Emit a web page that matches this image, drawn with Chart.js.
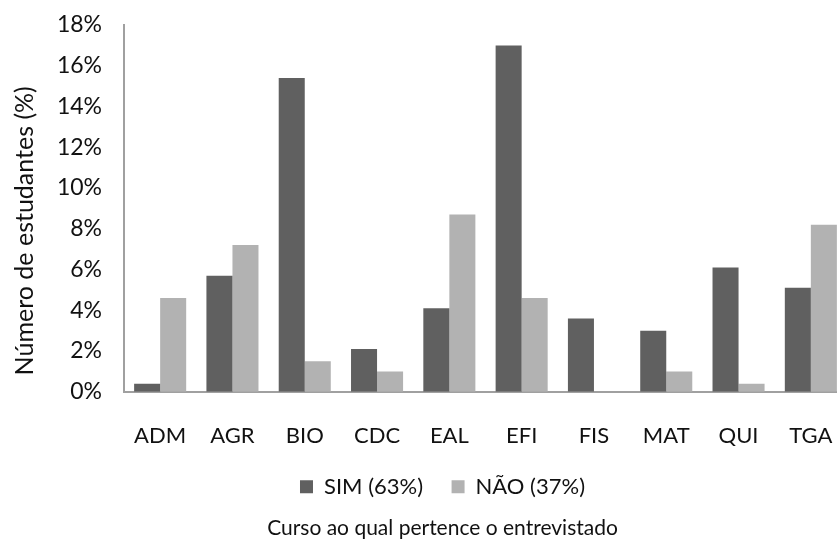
<!DOCTYPE html>
<html>
<head>
<meta charset="utf-8">
<script src="https://cdn.jsdelivr.net/npm/chart.js@4"></script>
<style>
  html, body { margin: 0; padding: 0; background: #fff; overflow: hidden; }
  #wrap { width: 837px; height: 542px; overflow: hidden; }
</style>
</head>
<body>
<div id="wrap"><canvas id="cursoChart" width="885" height="542"></canvas></div>
<script>
// dados (%)
const cursos = ['ADM', 'AGR', 'BIO', 'CDC', 'EAL', 'EFI', 'FIS', 'MAT', 'QUI', 'TGA'];
const sim = [0.4, 5.7, 15.4, 2.1, 4.1, 17.0, 3.6, 3.0, 6.1, 5.1];
const nao = [4.6, 7.2, 1.5, 1.0, 8.7, 4.6, 0, 1.0, 0.4, 8.2];
const yTicks = [0, 2, 4, 6, 8, 10, 12, 14, 16, 18];

const fam = 'Lato, "Liberation Sans", sans-serif';
const txt = '#111';

// canvas is wider than the page: the original picture is cut at the right edge
const ctx = document.getElementById('cursoChart').getContext('2d');
new Chart(ctx, {
  type: 'bar',
  data: {
    labels: cursos,
    datasets: [
      { label: 'SIM (63%)', data: sim, backgroundColor: '#606060' },
      { label: 'NÃO (37%)', data: nao, backgroundColor: '#b2b2b2' }
    ]
  },
  options: {
    responsive: false,
    animation: false,
    datasets: { bar: { categoryPercentage: 0.72, barPercentage: 1.0 } },
    layout: { padding: { top: 0, right: 38, left: 38, bottom: 0 } },
    scales: {
      x: {
        grid: { display: false, drawTicks: false },
        border: { display: true, color: '#a0a0a0', width: 2 },
        ticks: { color: txt, font: { family: fam, size: 22 }, padding: 31 },
        afterFit: s => { s.height = 78; }
      },
      y: {
        min: 0, max: 18,
        afterBuildTicks: axis => { axis.ticks = yTicks.map(v => ({ value: v })); },
        grid: { display: false, drawTicks: false },
        border: { display: true, color: '#a0a0a0', width: 2 },
        ticks: { color: txt, font: { family: fam, size: 23 }, padding: 22, callback: v => v + '%' },
        title: {
          display: true, text: 'Número de estudantes (%)       ', color: txt,
          font: { family: fam, size: 25 }, padding: { top: -28, bottom: 4 }
        },
        afterFit: s => { s.width = 86; s.paddingTop = 25; }
      }
    },
    plugins: {
      legend: {
        position: 'bottom',
        labels: {
          color: txt, font: { family: fam, size: 22 }, boxWidth: 13, boxHeight: 13, padding: 6,
          generateLabels: chart => {
            const items = Chart.defaults.plugins.legend.labels.generateLabels(chart);
            items[0].text += '    ';
            return items;
          }
        }
      },
      title: {
        display: true, position: 'bottom',
        text: 'Curso ao qual pertence o entrevistado',
        color: txt, font: { family: fam, size: 21, weight: 'normal' },
        padding: { top: 8, bottom: 1 }
      },
      tooltip: { enabled: false }
    }
  }
});
</script>
</body>
</html>
